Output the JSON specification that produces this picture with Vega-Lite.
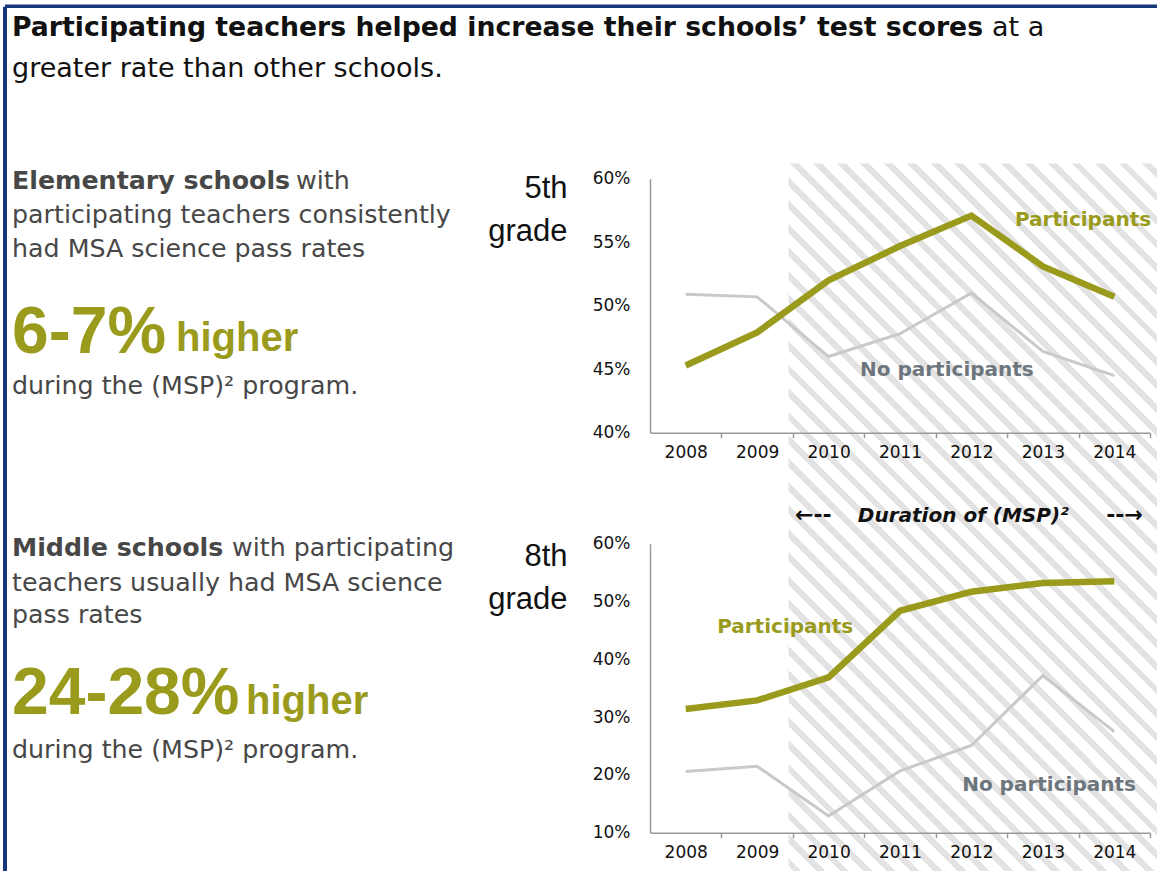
{
  "$schema": "https://vega.github.io/schema/vega-lite/v6.json",
  "background": "white",
  "padding": {"left": 3, "top": 3.75, "right": 0, "bottom": 0},
  "config": {"view": {"stroke": null}},
  "datasets": {
    "grade5": [
      {"year": 2008, "group": "No participants", "rate": 50.9},
      {"year": 2009, "group": "No participants", "rate": 50.7},
      {"year": 2010, "group": "No participants", "rate": 46.0},
      {"year": 2011, "group": "No participants", "rate": 47.8},
      {"year": 2012, "group": "No participants", "rate": 51.0},
      {"year": 2013, "group": "No participants", "rate": 46.4},
      {"year": 2014, "group": "No participants", "rate": 44.5},
      {"year": 2008, "group": "Participants", "rate": 45.3},
      {"year": 2009, "group": "Participants", "rate": 47.9},
      {"year": 2010, "group": "Participants", "rate": 52.0},
      {"year": 2011, "group": "Participants", "rate": 54.7},
      {"year": 2012, "group": "Participants", "rate": 57.1},
      {"year": 2013, "group": "Participants", "rate": 53.1},
      {"year": 2014, "group": "Participants", "rate": 50.7}
    ],
    "grade8": [
      {"year": 2008, "group": "No participants", "rate": 20.6},
      {"year": 2009, "group": "No participants", "rate": 21.5},
      {"year": 2010, "group": "No participants", "rate": 12.9},
      {"year": 2011, "group": "No participants", "rate": 20.7},
      {"year": 2012, "group": "No participants", "rate": 25.1},
      {"year": 2013, "group": "No participants", "rate": 37.2},
      {"year": 2014, "group": "No participants", "rate": 27.5},
      {"year": 2008, "group": "Participants", "rate": 31.4},
      {"year": 2009, "group": "Participants", "rate": 32.9},
      {"year": 2010, "group": "Participants", "rate": 36.9},
      {"year": 2011, "group": "Participants", "rate": 48.4},
      {"year": 2012, "group": "Participants", "rate": 51.7},
      {"year": 2013, "group": "Participants", "rate": 53.2},
      {"year": 2014, "group": "Participants", "rate": 53.5}
    ]
  },
  "columns": 2,
  "spacing": {"row": 111, "column": 168},
  "bounds": "flush",
  "concat": [
    {
      "width": 470,
      "height": 254,
      "layer": [
        {"data": {"values": [{}]}, "mark": {"type": "rule", "color": "#17397b", "strokeWidth": 3.5},
         "encoding": {"x": {"datum": -0.01489, "type": "quantitative", "scale": {"domain": [0, 1], "nice": false, "zero": false}, "axis": null},
                      "x2": {"datum": 2.4532},
                      "y": {"datum": -0.6791, "type": "quantitative", "scale": {"domain": [0, 1], "nice": false, "zero": false, "reverse": true}, "axis": null}}},
        {"data": {"values": [{}]}, "mark": {"type": "rule", "color": "#17397b", "strokeWidth": 4},
         "encoding": {"x": {"datum": -0.01489, "type": "quantitative", "scale": {"domain": [0, 1], "nice": false, "zero": false}, "axis": null},
                      "y": {"datum": -0.6772, "type": "quantitative", "scale": {"domain": [0, 1], "nice": false, "zero": false, "reverse": true}, "axis": null},
                      "y2": {"datum": 2.7638}}},
        {"data": {"values": [{}]}, "mark": {"type": "text", "align": "left", "baseline": "alphabetic", "font": "DejaVu Sans", "fontSize": 26.7, "fontWeight": "bold", "color": "#111111", "text": "Participating teachers helped increase their schools’ test scores"},
         "encoding": {"x": {"datum": 0, "type": "quantitative", "scale": {"domain": [0, 1], "nice": false, "zero": false}, "axis": null},
                      "y": {"datum": -0.5630, "type": "quantitative", "scale": {"domain": [0, 1], "nice": false, "zero": false, "reverse": true}, "axis": null}}},
        {"data": {"values": [{}]}, "mark": {"type": "text", "align": "left", "baseline": "alphabetic", "font": "DejaVu Sans", "fontSize": 27, "color": "#111111", "text": "at a"},
         "encoding": {"x": {"datum": 2.0851, "type": "quantitative", "scale": {"domain": [0, 1], "nice": false, "zero": false}, "axis": null},
                      "y": {"datum": -0.5630, "type": "quantitative", "scale": {"domain": [0, 1], "nice": false, "zero": false, "reverse": true}, "axis": null}}},
        {"data": {"values": [{}]}, "mark": {"type": "text", "align": "left", "baseline": "alphabetic", "font": "DejaVu Sans", "fontSize": 27, "color": "#111111", "text": "greater rate than other schools."},
         "encoding": {"x": {"datum": 0, "type": "quantitative", "scale": {"domain": [0, 1], "nice": false, "zero": false}, "axis": null},
                      "y": {"datum": -0.4016, "type": "quantitative", "scale": {"domain": [0, 1], "nice": false, "zero": false, "reverse": true}, "axis": null}}},
        {"data": {"values": [{}]}, "mark": {"type": "text", "align": "left", "baseline": "alphabetic", "font": "DejaVu Sans", "fontSize": 25.3, "fontWeight": "bold", "color": "#474747", "text": "Elementary schools"},
         "encoding": {"x": {"datum": 0, "type": "quantitative", "scale": {"domain": [0, 1], "nice": false, "zero": false}, "axis": null},
                      "y": {"datum": 0.03937, "type": "quantitative", "scale": {"domain": [0, 1], "nice": false, "zero": false, "reverse": true}, "axis": null}}},
        {"data": {"values": [{}]}, "mark": {"type": "text", "align": "left", "baseline": "alphabetic", "font": "DejaVu Sans", "fontSize": 25.3, "color": "#474747", "text": "with"},
         "encoding": {"x": {"datum": 0.6043, "type": "quantitative", "scale": {"domain": [0, 1], "nice": false, "zero": false}, "axis": null},
                      "y": {"datum": 0.03937, "type": "quantitative", "scale": {"domain": [0, 1], "nice": false, "zero": false, "reverse": true}, "axis": null}}},
        {"data": {"values": [{}]}, "mark": {"type": "text", "align": "left", "baseline": "alphabetic", "font": "DejaVu Sans", "fontSize": 25.3, "color": "#474747", "text": "participating teachers consistently"},
         "encoding": {"x": {"datum": 0, "type": "quantitative", "scale": {"domain": [0, 1], "nice": false, "zero": false}, "axis": null},
                      "y": {"datum": 0.1732, "type": "quantitative", "scale": {"domain": [0, 1], "nice": false, "zero": false, "reverse": true}, "axis": null}}},
        {"data": {"values": [{}]}, "mark": {"type": "text", "align": "left", "baseline": "alphabetic", "font": "DejaVu Sans", "fontSize": 25.3, "color": "#474747", "text": "had MSA science pass rates"},
         "encoding": {"x": {"datum": 0, "type": "quantitative", "scale": {"domain": [0, 1], "nice": false, "zero": false}, "axis": null},
                      "y": {"datum": 0.3071, "type": "quantitative", "scale": {"domain": [0, 1], "nice": false, "zero": false, "reverse": true}, "axis": null}}},
        {"data": {"values": [{}]}, "mark": {"type": "text", "align": "left", "baseline": "alphabetic", "font": "Liberation Sans", "fontSize": 66, "fontWeight": "bold", "color": "#9a9b1c", "text": "6-7%"},
         "encoding": {"x": {"datum": 0, "type": "quantitative", "scale": {"domain": [0, 1], "nice": false, "zero": false}, "axis": null},
                      "y": {"datum": 0.6850, "type": "quantitative", "scale": {"domain": [0, 1], "nice": false, "zero": false, "reverse": true}, "axis": null}}},
        {"data": {"values": [{}]}, "mark": {"type": "text", "align": "left", "baseline": "alphabetic", "font": "Liberation Sans", "fontSize": 40, "fontWeight": "bold", "color": "#9a9b1c", "text": "higher"},
         "encoding": {"x": {"datum": 0.3489, "type": "quantitative", "scale": {"domain": [0, 1], "nice": false, "zero": false}, "axis": null},
                      "y": {"datum": 0.6772, "type": "quantitative", "scale": {"domain": [0, 1], "nice": false, "zero": false, "reverse": true}, "axis": null}}},
        {"data": {"values": [{}]}, "mark": {"type": "text", "align": "left", "baseline": "alphabetic", "font": "DejaVu Sans", "fontSize": 25.3, "color": "#474747", "text": "during the (MSP)² program."},
         "encoding": {"x": {"datum": 0, "type": "quantitative", "scale": {"domain": [0, 1], "nice": false, "zero": false}, "axis": null},
                      "y": {"datum": 0.8465, "type": "quantitative", "scale": {"domain": [0, 1], "nice": false, "zero": false, "reverse": true}, "axis": null}}}
      ]
    },
    {
      "width": 500,
      "height": 254,
      "layer": [
        {"data": {"values": [{}]},
         "mark": {"type": "rect", "fill": {"gradient": "linear", "x1": 0, "y1": 1, "x2": 0.6191, "y2": -0.197, "stops": [
           {"offset": 0, "color": "#e3e3e3"}, {"offset": 0.008, "color": "#e3e3e3"}, {"offset": 0.008, "color": "#ffffff"}, {"offset": 0.0213, "color": "#ffffff"},
           {"offset": 0.0213, "color": "#e3e3e3"}, {"offset": 0.0293, "color": "#e3e3e3"}, {"offset": 0.0293, "color": "#ffffff"}, {"offset": 0.0426, "color": "#ffffff"},
           {"offset": 0.0426, "color": "#e3e3e3"}, {"offset": 0.0506, "color": "#e3e3e3"}, {"offset": 0.0506, "color": "#ffffff"}, {"offset": 0.0639, "color": "#ffffff"},
           {"offset": 0.0639, "color": "#e3e3e3"}, {"offset": 0.0719, "color": "#e3e3e3"}, {"offset": 0.0719, "color": "#ffffff"}, {"offset": 0.0852, "color": "#ffffff"},
           {"offset": 0.0852, "color": "#e3e3e3"}, {"offset": 0.0932, "color": "#e3e3e3"}, {"offset": 0.0932, "color": "#ffffff"}, {"offset": 0.1065, "color": "#ffffff"},
           {"offset": 0.1065, "color": "#e3e3e3"}, {"offset": 0.1145, "color": "#e3e3e3"}, {"offset": 0.1145, "color": "#ffffff"}, {"offset": 0.1278, "color": "#ffffff"},
           {"offset": 0.1278, "color": "#e3e3e3"}, {"offset": 0.1358, "color": "#e3e3e3"}, {"offset": 0.1358, "color": "#ffffff"}, {"offset": 0.1491, "color": "#ffffff"},
           {"offset": 0.1491, "color": "#e3e3e3"}, {"offset": 0.1571, "color": "#e3e3e3"}, {"offset": 0.1571, "color": "#ffffff"}, {"offset": 0.1704, "color": "#ffffff"},
           {"offset": 0.1704, "color": "#e3e3e3"}, {"offset": 0.1784, "color": "#e3e3e3"}, {"offset": 0.1784, "color": "#ffffff"}, {"offset": 0.1917, "color": "#ffffff"},
           {"offset": 0.1917, "color": "#e3e3e3"}, {"offset": 0.1997, "color": "#e3e3e3"}, {"offset": 0.1997, "color": "#ffffff"}, {"offset": 0.213, "color": "#ffffff"},
           {"offset": 0.213, "color": "#e3e3e3"}, {"offset": 0.221, "color": "#e3e3e3"}, {"offset": 0.221, "color": "#ffffff"}, {"offset": 0.2343, "color": "#ffffff"},
           {"offset": 0.2343, "color": "#e3e3e3"}, {"offset": 0.2423, "color": "#e3e3e3"}, {"offset": 0.2423, "color": "#ffffff"}, {"offset": 0.2556, "color": "#ffffff"},
           {"offset": 0.2556, "color": "#e3e3e3"}, {"offset": 0.2636, "color": "#e3e3e3"}, {"offset": 0.2636, "color": "#ffffff"}, {"offset": 0.2769, "color": "#ffffff"},
           {"offset": 0.2769, "color": "#e3e3e3"}, {"offset": 0.2849, "color": "#e3e3e3"}, {"offset": 0.2849, "color": "#ffffff"}, {"offset": 0.2982, "color": "#ffffff"},
           {"offset": 0.2982, "color": "#e3e3e3"}, {"offset": 0.3062, "color": "#e3e3e3"}, {"offset": 0.3062, "color": "#ffffff"}, {"offset": 0.3195, "color": "#ffffff"},
           {"offset": 0.3195, "color": "#e3e3e3"}, {"offset": 0.3275, "color": "#e3e3e3"}, {"offset": 0.3275, "color": "#ffffff"}, {"offset": 0.3408, "color": "#ffffff"},
           {"offset": 0.3408, "color": "#e3e3e3"}, {"offset": 0.3488, "color": "#e3e3e3"}, {"offset": 0.3488, "color": "#ffffff"}, {"offset": 0.3621, "color": "#ffffff"},
           {"offset": 0.3621, "color": "#e3e3e3"}, {"offset": 0.3701, "color": "#e3e3e3"}, {"offset": 0.3701, "color": "#ffffff"}, {"offset": 0.3834, "color": "#ffffff"},
           {"offset": 0.3834, "color": "#e3e3e3"}, {"offset": 0.3914, "color": "#e3e3e3"}, {"offset": 0.3914, "color": "#ffffff"}, {"offset": 0.4047, "color": "#ffffff"},
           {"offset": 0.4047, "color": "#e3e3e3"}, {"offset": 0.4127, "color": "#e3e3e3"}, {"offset": 0.4127, "color": "#ffffff"}, {"offset": 0.426, "color": "#ffffff"},
           {"offset": 0.426, "color": "#e3e3e3"}, {"offset": 0.434, "color": "#e3e3e3"}, {"offset": 0.434, "color": "#ffffff"}, {"offset": 0.4473, "color": "#ffffff"},
           {"offset": 0.4473, "color": "#e3e3e3"}, {"offset": 0.4553, "color": "#e3e3e3"}, {"offset": 0.4553, "color": "#ffffff"}, {"offset": 0.4686, "color": "#ffffff"},
           {"offset": 0.4686, "color": "#e3e3e3"}, {"offset": 0.4766, "color": "#e3e3e3"}, {"offset": 0.4766, "color": "#ffffff"}, {"offset": 0.4899, "color": "#ffffff"},
           {"offset": 0.4899, "color": "#e3e3e3"}, {"offset": 0.4979, "color": "#e3e3e3"}, {"offset": 0.4979, "color": "#ffffff"}, {"offset": 0.5112, "color": "#ffffff"},
           {"offset": 0.5112, "color": "#e3e3e3"}, {"offset": 0.5192, "color": "#e3e3e3"}, {"offset": 0.5192, "color": "#ffffff"}, {"offset": 0.5325, "color": "#ffffff"},
           {"offset": 0.5325, "color": "#e3e3e3"}, {"offset": 0.5405, "color": "#e3e3e3"}, {"offset": 0.5405, "color": "#ffffff"}, {"offset": 0.5538, "color": "#ffffff"},
           {"offset": 0.5538, "color": "#e3e3e3"}, {"offset": 0.5618, "color": "#e3e3e3"}, {"offset": 0.5618, "color": "#ffffff"}, {"offset": 0.5751, "color": "#ffffff"},
           {"offset": 0.5751, "color": "#e3e3e3"}, {"offset": 0.5831, "color": "#e3e3e3"}, {"offset": 0.5831, "color": "#ffffff"}, {"offset": 0.5964, "color": "#ffffff"},
           {"offset": 0.5964, "color": "#e3e3e3"}, {"offset": 0.6044, "color": "#e3e3e3"}, {"offset": 0.6044, "color": "#ffffff"}, {"offset": 0.6177, "color": "#ffffff"},
           {"offset": 0.6177, "color": "#e3e3e3"}, {"offset": 0.6257, "color": "#e3e3e3"}, {"offset": 0.6257, "color": "#ffffff"}, {"offset": 0.639, "color": "#ffffff"},
           {"offset": 0.639, "color": "#e3e3e3"}, {"offset": 0.647, "color": "#e3e3e3"}, {"offset": 0.647, "color": "#ffffff"}, {"offset": 0.6603, "color": "#ffffff"},
           {"offset": 0.6603, "color": "#e3e3e3"}, {"offset": 0.6683, "color": "#e3e3e3"}, {"offset": 0.6683, "color": "#ffffff"}, {"offset": 0.6816, "color": "#ffffff"},
           {"offset": 0.6816, "color": "#e3e3e3"}, {"offset": 0.6896, "color": "#e3e3e3"}, {"offset": 0.6896, "color": "#ffffff"}, {"offset": 0.7029, "color": "#ffffff"},
           {"offset": 0.7029, "color": "#e3e3e3"}, {"offset": 0.7109, "color": "#e3e3e3"}, {"offset": 0.7109, "color": "#ffffff"}, {"offset": 0.7242, "color": "#ffffff"},
           {"offset": 0.7242, "color": "#e3e3e3"}, {"offset": 0.7322, "color": "#e3e3e3"}, {"offset": 0.7322, "color": "#ffffff"}, {"offset": 0.7455, "color": "#ffffff"},
           {"offset": 0.7455, "color": "#e3e3e3"}, {"offset": 0.7535, "color": "#e3e3e3"}, {"offset": 0.7535, "color": "#ffffff"}, {"offset": 0.7668, "color": "#ffffff"},
           {"offset": 0.7668, "color": "#e3e3e3"}, {"offset": 0.7748, "color": "#e3e3e3"}, {"offset": 0.7748, "color": "#ffffff"}, {"offset": 0.7881, "color": "#ffffff"},
           {"offset": 0.7881, "color": "#e3e3e3"}, {"offset": 0.7961, "color": "#e3e3e3"}, {"offset": 0.7961, "color": "#ffffff"}, {"offset": 0.8094, "color": "#ffffff"},
           {"offset": 0.8094, "color": "#e3e3e3"}, {"offset": 0.8174, "color": "#e3e3e3"}, {"offset": 0.8174, "color": "#ffffff"}, {"offset": 0.8307, "color": "#ffffff"},
           {"offset": 0.8307, "color": "#e3e3e3"}, {"offset": 0.8387, "color": "#e3e3e3"}, {"offset": 0.8387, "color": "#ffffff"}, {"offset": 0.852, "color": "#ffffff"},
           {"offset": 0.852, "color": "#e3e3e3"}, {"offset": 0.86, "color": "#e3e3e3"}, {"offset": 0.86, "color": "#ffffff"}, {"offset": 0.8733, "color": "#ffffff"},
           {"offset": 0.8733, "color": "#e3e3e3"}, {"offset": 0.8813, "color": "#e3e3e3"}, {"offset": 0.8813, "color": "#ffffff"}, {"offset": 0.8946, "color": "#ffffff"},
           {"offset": 0.8946, "color": "#e3e3e3"}, {"offset": 0.9026, "color": "#e3e3e3"}, {"offset": 0.9026, "color": "#ffffff"}, {"offset": 0.9159, "color": "#ffffff"},
           {"offset": 0.9159, "color": "#e3e3e3"}, {"offset": 0.9239, "color": "#e3e3e3"}, {"offset": 0.9239, "color": "#ffffff"}, {"offset": 0.9372, "color": "#ffffff"},
           {"offset": 0.9372, "color": "#e3e3e3"}, {"offset": 0.9452, "color": "#e3e3e3"}, {"offset": 0.9452, "color": "#ffffff"}, {"offset": 0.9585, "color": "#ffffff"},
           {"offset": 0.9585, "color": "#e3e3e3"}, {"offset": 0.9665, "color": "#e3e3e3"}, {"offset": 0.9665, "color": "#ffffff"}, {"offset": 0.9798, "color": "#ffffff"},
           {"offset": 0.9798, "color": "#e3e3e3"}, {"offset": 0.9878, "color": "#e3e3e3"}, {"offset": 0.9878, "color": "#ffffff"}, {"offset": 1, "color": "#ffffff"}
         ]}},
         "encoding": {"x": {"datum": 2009.44, "type": "quantitative", "scale": {"domain": [2007.5, 2014.5], "nice": false, "zero": false}},
                      "x2": {"datum": 2014.7},
                      "y": {"datum": 61.2, "type": "quantitative", "scale": {"domain": [40, 60], "nice": false, "zero": false}},
                      "y2": {"datum": 4}}},
        {"data": {"name": "grade5"},
         "mark": {"type": "line"},
         "encoding": {
           "x": {"field": "year", "type": "quantitative", "scale": {"domain": [2007.5, 2014.5], "nice": false, "zero": false},
                 "axis": {"values": [2007, 2008, 2009, 2010, 2011, 2012, 2013, 2014], "format": "d", "labelExpr": "datum.value < 2008 ? '' : datum.label", "tickOffset": 35.714, "labelOffset": -35.714, "tickSize": 5, "tickColor": "#9a9a9a", "tickWidth": 1.5, "domainColor": "#9a9a9a", "domainWidth": 1.5, "labelPadding": 7, "labelFont": "DejaVu Sans", "labelFontSize": 17, "labelColor": "#111111", "labelFlush": false, "labelOverlap": false, "grid": false, "title": null, "zindex": 1}},
           "y": {"field": "rate", "type": "quantitative", "scale": {"domain": [40, 60], "nice": false, "zero": false},
                 "axis": {"values": [40, 45, 50, 55, 60], "labelExpr": "datum.value + '%'", "ticks": false, "labelPadding": 20, "domainColor": "#9a9a9a", "domainWidth": 1.5, "labelFont": "DejaVu Sans", "labelFontSize": 17, "labelColor": "#111111", "labelFlush": false, "labelOverlap": false, "grid": false, "zindex": 1,
                          "title": ["5th", "grade"], "titleAngle": 0, "titleAlign": "right", "titleBaseline": "alphabetic", "titleX": -83, "titleY": 19, "titleFont": "Liberation Sans", "titleFontSize": 31, "titleFontWeight": "normal", "titleColor": "#111111", "titleLineHeight": 43}},
           "color": {"field": "group", "type": "nominal", "scale": {"domain": ["No participants", "Participants"], "range": ["#c9c9c9", "#9a9b1c"]}, "legend": null},
           "strokeWidth": {"field": "group", "type": "nominal", "scale": {"domain": ["No participants", "Participants"], "range": [3, 6.5]}, "legend": null}
         }},
        {"data": {"values": [{}]}, "mark": {"type": "text", "align": "left", "baseline": "alphabetic", "font": "DejaVu Sans", "fontSize": 20, "fontWeight": "bold", "color": "#9a9b1c", "text": "Participants"},
         "encoding": {"x": {"datum": 2012.61, "type": "quantitative", "scale": {"domain": [2007.5, 2014.5], "nice": false, "zero": false}},
                      "y": {"datum": 56.3, "type": "quantitative", "scale": {"domain": [40, 60], "nice": false, "zero": false}}}},
        {"data": {"values": [{}]}, "mark": {"type": "text", "align": "left", "baseline": "alphabetic", "font": "DejaVu Sans", "fontSize": 20, "fontWeight": "bold", "color": "#6d767c", "text": "No participants"},
         "encoding": {"x": {"datum": 2010.44, "type": "quantitative", "scale": {"domain": [2007.5, 2014.5], "nice": false, "zero": false}},
                      "y": {"datum": 44.49, "type": "quantitative", "scale": {"domain": [40, 60], "nice": false, "zero": false}}}}
      ]
    },
    {
      "width": 470,
      "height": 289,
      "layer": [
        {"data": {"values": [{}]}, "mark": {"type": "text", "align": "left", "baseline": "alphabetic", "font": "DejaVu Sans", "fontSize": 25.3, "fontWeight": "bold", "color": "#474747", "text": "Middle schools"},
         "encoding": {"x": {"datum": 0, "type": "quantitative", "scale": {"domain": [0, 1], "nice": false, "zero": false}, "axis": null},
                      "y": {"datum": 0.04152, "type": "quantitative", "scale": {"domain": [0, 1], "nice": false, "zero": false, "reverse": true}, "axis": null}}},
        {"data": {"values": [{}]}, "mark": {"type": "text", "align": "left", "baseline": "alphabetic", "font": "DejaVu Sans", "fontSize": 25.3, "color": "#474747", "text": "with participating"},
         "encoding": {"x": {"datum": 0.4681, "type": "quantitative", "scale": {"domain": [0, 1], "nice": false, "zero": false}, "axis": null},
                      "y": {"datum": 0.04152, "type": "quantitative", "scale": {"domain": [0, 1], "nice": false, "zero": false, "reverse": true}, "axis": null}}},
        {"data": {"values": [{}]}, "mark": {"type": "text", "align": "left", "baseline": "alphabetic", "font": "DejaVu Sans", "fontSize": 25.3, "color": "#474747", "text": "teachers usually had MSA science"},
         "encoding": {"x": {"datum": 0, "type": "quantitative", "scale": {"domain": [0, 1], "nice": false, "zero": false}, "axis": null},
                      "y": {"datum": 0.1626, "type": "quantitative", "scale": {"domain": [0, 1], "nice": false, "zero": false, "reverse": true}, "axis": null}}},
        {"data": {"values": [{}]}, "mark": {"type": "text", "align": "left", "baseline": "alphabetic", "font": "DejaVu Sans", "fontSize": 25.3, "color": "#474747", "text": "pass rates"},
         "encoding": {"x": {"datum": 0, "type": "quantitative", "scale": {"domain": [0, 1], "nice": false, "zero": false}, "axis": null},
                      "y": {"datum": 0.2734, "type": "quantitative", "scale": {"domain": [0, 1], "nice": false, "zero": false, "reverse": true}, "axis": null}}},
        {"data": {"values": [{}]}, "mark": {"type": "text", "align": "left", "baseline": "alphabetic", "font": "Liberation Sans", "fontSize": 66, "fontWeight": "bold", "color": "#9a9b1c", "text": "24-28%"},
         "encoding": {"x": {"datum": 0, "type": "quantitative", "scale": {"domain": [0, 1], "nice": false, "zero": false}, "axis": null},
                      "y": {"datum": 0.5882, "type": "quantitative", "scale": {"domain": [0, 1], "nice": false, "zero": false, "reverse": true}, "axis": null}}},
        {"data": {"values": [{}]}, "mark": {"type": "text", "align": "left", "baseline": "alphabetic", "font": "Liberation Sans", "fontSize": 40, "fontWeight": "bold", "color": "#9a9b1c", "text": "higher"},
         "encoding": {"x": {"datum": 0.4979, "type": "quantitative", "scale": {"domain": [0, 1], "nice": false, "zero": false}, "axis": null},
                      "y": {"datum": 0.5882, "type": "quantitative", "scale": {"domain": [0, 1], "nice": false, "zero": false, "reverse": true}, "axis": null}}},
        {"data": {"values": [{}]}, "mark": {"type": "text", "align": "left", "baseline": "alphabetic", "font": "DejaVu Sans", "fontSize": 25.3, "color": "#474747", "text": "during the (MSP)² program."},
         "encoding": {"x": {"datum": 0, "type": "quantitative", "scale": {"domain": [0, 1], "nice": false, "zero": false}, "axis": null},
                      "y": {"datum": 0.7405, "type": "quantitative", "scale": {"domain": [0, 1], "nice": false, "zero": false, "reverse": true}, "axis": null}}}
      ]
    },
    {
      "width": 500,
      "height": 289,
      "layer": [
        {"data": {"name": "grade8"},
         "mark": {"type": "line"},
         "encoding": {
           "x": {"field": "year", "type": "quantitative", "scale": {"domain": [2007.5, 2014.5], "nice": false, "zero": false},
                 "axis": {"values": [2007, 2008, 2009, 2010, 2011, 2012, 2013, 2014], "format": "d", "labelExpr": "datum.value < 2008 ? '' : datum.label", "tickOffset": 35.714, "labelOffset": -35.714, "tickSize": 5, "tickColor": "#9a9a9a", "tickWidth": 1.5, "domainColor": "#9a9a9a", "domainWidth": 1.5, "labelPadding": 7, "labelFont": "DejaVu Sans", "labelFontSize": 17, "labelColor": "#111111", "labelFlush": false, "labelOverlap": false, "grid": false, "title": null, "zindex": 1}},
           "y": {"field": "rate", "type": "quantitative", "scale": {"domain": [10, 60], "nice": false, "zero": false},
                 "axis": {"values": [10, 20, 30, 40, 50, 60], "labelExpr": "datum.value + '%'", "ticks": false, "labelPadding": 20, "domainColor": "#9a9a9a", "domainWidth": 1.5, "labelFont": "DejaVu Sans", "labelFontSize": 17, "labelColor": "#111111", "labelFlush": false, "labelOverlap": false, "grid": false, "zindex": 1,
                          "title": ["8th", "grade"], "titleAngle": 0, "titleAlign": "right", "titleBaseline": "alphabetic", "titleX": -83, "titleY": 22, "titleFont": "Liberation Sans", "titleFontSize": 31, "titleFontWeight": "normal", "titleColor": "#111111", "titleLineHeight": 43}},
           "color": {"field": "group", "type": "nominal", "scale": {"domain": ["No participants", "Participants"], "range": ["#c9c9c9", "#9a9b1c"]}, "legend": null},
           "strokeWidth": {"field": "group", "type": "nominal", "scale": {"domain": ["No participants", "Participants"], "range": [3, 6.5]}, "legend": null}
         }},
        {"data": {"values": [{}]}, "mark": {"type": "text", "align": "left", "baseline": "alphabetic", "font": "DejaVu Sans", "fontSize": 20, "fontWeight": "bold", "color": "#9a9b1c", "text": "Participants"},
         "encoding": {"x": {"datum": 2008.44, "type": "quantitative", "scale": {"domain": [2007.5, 2014.5], "nice": false, "zero": false}},
                      "y": {"datum": 44.6, "type": "quantitative", "scale": {"domain": [10, 60], "nice": false, "zero": false}}}},
        {"data": {"values": [{}]}, "mark": {"type": "text", "align": "left", "baseline": "alphabetic", "font": "DejaVu Sans", "fontSize": 20, "fontWeight": "bold", "color": "#6d767c", "text": "No participants"},
         "encoding": {"x": {"datum": 2011.87, "type": "quantitative", "scale": {"domain": [2007.5, 2014.5], "nice": false, "zero": false}},
                      "y": {"datum": 17.27, "type": "quantitative", "scale": {"domain": [10, 60], "nice": false, "zero": false}}}},
        {"data": {"values": [{}]}, "mark": {"type": "text", "align": "left", "baseline": "alphabetic", "font": "DejaVu Sans", "fontSize": 20, "fontWeight": "bold", "fontStyle": "italic", "color": "#111111", "text": "Duration of (MSP)²"},
         "encoding": {"x": {"datum": 2010.41, "type": "quantitative", "scale": {"domain": [2007.5, 2014.5], "nice": false, "zero": false}},
                      "y": {"datum": 63.81, "type": "quantitative", "scale": {"domain": [10, 60], "nice": false, "zero": false}}}},
        {"data": {"values": [{}]}, "mark": {"type": "text", "align": "left", "baseline": "alphabetic", "font": "DejaVu Sans", "fontSize": 22, "fontWeight": "bold", "color": "#111111", "text": "←--"},
         "encoding": {"x": {"datum": 2009.53, "type": "quantitative", "scale": {"domain": [2007.5, 2014.5], "nice": false, "zero": false}},
                      "y": {"datum": 63.81, "type": "quantitative", "scale": {"domain": [10, 60], "nice": false, "zero": false}}}},
        {"data": {"values": [{}]}, "mark": {"type": "text", "align": "right", "baseline": "alphabetic", "font": "DejaVu Sans", "fontSize": 22, "fontWeight": "bold", "color": "#111111", "text": "--→"},
         "encoding": {"x": {"datum": 2014.4, "type": "quantitative", "scale": {"domain": [2007.5, 2014.5], "nice": false, "zero": false}},
                      "y": {"datum": 63.81, "type": "quantitative", "scale": {"domain": [10, 60], "nice": false, "zero": false}}}}
      ]
    }
  ]
}
